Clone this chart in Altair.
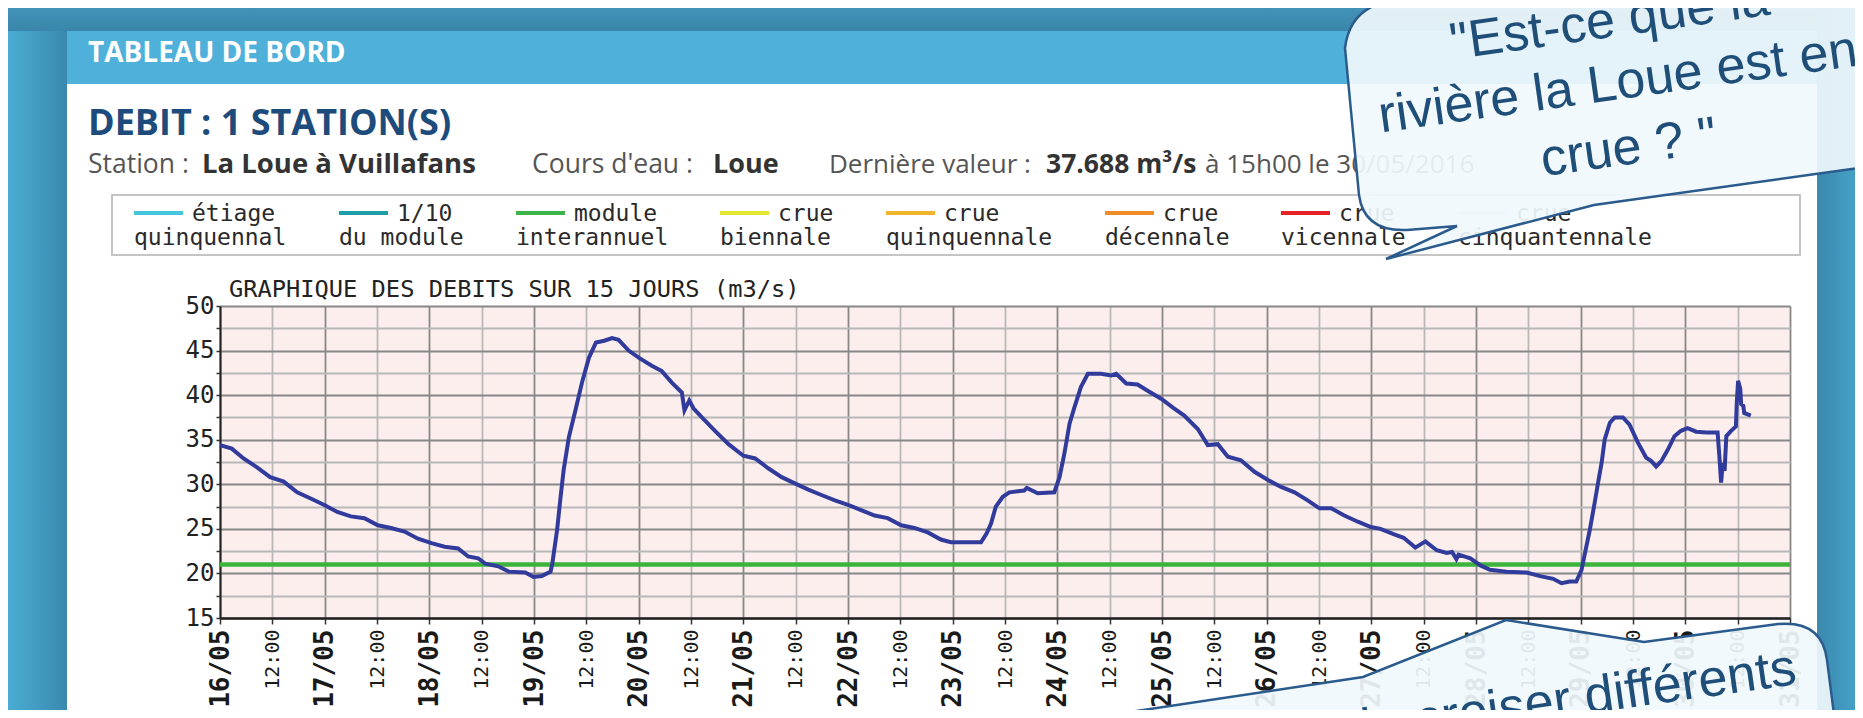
import altair as alt
import pandas as pd

# ---------------- data ----------------
BASE_TIME = "2016-05-16 00:00"
HOURS = [0, 2.7, 5.4, 8.5, 11.5, 14.6, 17.7, 20.8, 23.8, 26.9, 30, 33.1, 36.2, 39.2, 42.3,
         45.4, 48.5, 51.5, 54.6, 56.9, 59.2, 60.8, 63.8, 66.2, 70, 71.9, 73.8, 75.8, 76.2,
         77.3, 78.1, 78.8, 80, 81.5, 83.1, 84.6, 86.2, 88.1, 89.9, 91.4, 93.7, 96, 99,
         101.3, 103.6, 105.9, 106.5, 107.6, 108.6, 110.5, 113.5, 116.6, 120, 122.7, 125.7,
         128.8, 131.8, 134.9, 137.9, 141, 144, 147, 150.1, 153.1, 156.2, 159.2, 162.3,
         165.3, 167.6, 171.4, 174.5, 175.8, 176.8, 177.9, 179.5, 181, 184.4, 185, 187.5,
         191.3, 192.5, 193.6, 194.8, 195.9, 197.4, 199, 202, 204.3, 205.5, 207.8, 210.4,
         212.7, 215.8, 218.5, 221.1, 224.2, 226.5, 228.8, 231.1, 234.1, 237.2, 240.2,
         243.3, 246.4, 249.4, 252.1, 254.8, 257.8, 260.9, 263.9, 266.1, 269.1, 271.4,
         274.1, 276.4, 279, 281.3, 282.5, 283.5, 284, 286.7, 289, 291.2, 295, 299.6,
         302.7, 305.7, 307.6, 309.5, 311, 312.2, 313, 314.1, 315.2, 316, 316.8, 317.5,
         318.7, 319.8, 321.7, 323.2, 325.1, 327, 328.2, 329.3, 330.5, 332, 333.5, 335,
         336.5, 338.5, 340.8, 343.4, 343.8, 344.2, 344.6, 345, 345.4, 346.5, 347.6,
         347.8, 348.1, 348.6, 348.8, 349.3, 349.5, 351]
FLOW = [34.4, 34.0, 32.9, 31.9, 30.8, 30.3, 29.1, 28.4, 27.7, 26.9, 26.4, 26.2, 25.4, 25.1,
        24.7, 23.9, 23.4, 23.0, 22.8, 21.9, 21.7, 21.1, 20.8, 20.2, 20.1, 19.6, 19.7, 20.2,
        21.1, 24.9, 28.6, 31.6, 35.3, 38.3, 41.6, 44.2, 45.9, 46.1, 46.4, 46.2, 45.0, 44.2,
        43.3, 42.7, 41.4, 40.3, 38.3, 39.4, 38.5, 37.5, 36.0, 34.5, 33.2, 32.9, 31.8, 30.8,
        30.1, 29.4, 28.8, 28.2, 27.7, 27.1, 26.5, 26.2, 25.4, 25.1, 24.6, 23.8, 23.5, 23.5,
        23.5, 24.5, 25.6, 27.5, 28.6, 29.1, 29.3, 29.6, 29.0, 29.1, 30.8, 33.4, 36.8, 38.6,
        40.9, 42.4, 42.4, 42.2, 42.4, 41.3, 41.2, 40.5, 39.6, 38.6, 37.7, 36.2, 34.4, 34.5,
        33.1, 32.7, 31.4, 30.5, 29.7, 29.1, 28.2, 27.3, 27.3, 26.5, 25.8, 25.2, 25.0, 24.4,
        24.0, 22.9, 23.6, 22.6, 22.3, 22.4, 21.6, 22.1, 21.7, 20.9, 20.4, 20.2, 20.1, 19.7,
        19.4, 18.9, 19.1, 19.1, 20.4, 22.3, 24.9, 27.9, 30.2, 32.4, 35.0, 36.9, 37.5, 37.5,
        36.7, 34.7, 33.0, 32.6, 32.0, 32.6, 33.9, 35.4, 36.0, 36.3, 35.9, 35.8, 35.8, 33.2,
        30.2, 32.4, 31.5, 35.4, 36.0, 36.5, 39.2, 41.6, 40.7, 39.0, 38.8, 38.0, 37.7]
MODULE_INTERANNUEL = 21.0

LEGEND_LINE1 = ["étiage", "1/10", "module", "crue", "crue", "crue", "crue", "crue"]
LEGEND_LINE2 = ["quinquennal", "du module", "interannuel", "biennale", "quinquennale",
                "décennale", "vicennale", "cinquantennale"]
LEGEND_COLORS = ["#44c6df", "#1e9fa8", "#3cb44a", "#e6e632", "#f0b42a", "#f08c28",
                 "#e62128", "#f4d2e8"]

Y_TICKS = [15, 17.5, 20, 22.5, 25, 27.5, 30, 32.5, 35, 37.5, 40, 42.5, 45, 47.5, 50]
X_DAYS = list(range(16, 31))

# ---------------- layout ----------------
OX, OY = 220, 306          # page position of plot origin
W, H = 1570, 312
PAD = {"left": OX - 8, "top": OY - 8, "right": 1847 - (OX - 8) - W, "bottom": 702 - (OY - 8) - H}

flow_df = pd.DataFrame({
    "time": pd.Timestamp(BASE_TIME) + pd.to_timedelta(HOURS, unit="h"),
    "value": FLOW,
})
one = pd.DataFrame({"k": [0]})

x_ticks = []
for d in X_DAYS:
    x_ticks.append(alt.DateTime(year=2016, month=5, date=d, hours=0))
    x_ticks.append(alt.DateTime(year=2016, month=5, date=d, hours=12))
x_ticks.append(alt.DateTime(year=2016, month=5, date=31, hours=0))

x_enc = alt.X(
    "time:T",
    scale=alt.Scale(domain=[alt.DateTime(year=2016, month=5, date=16, hours=0),
                            alt.DateTime(year=2016, month=5, date=31, hours=0)]),
    axis=alt.Axis(
        values=x_ticks,
        labelExpr="hours(datum.value) == 0 ? timeFormat(datum.value, '%d/%m') : '12:00'",
        labelAngle=270,
        labelFont="DejaVu Sans Mono",
        labelFontSize=alt.condition("hours(datum.value) == 0", alt.value(26), alt.value(20)),
        labelFontWeight=alt.condition("hours(datum.value) == 0", alt.value("bold"), alt.value("normal")),
        labelColor="#1a1a1a",
        labelPadding=5,
        labelOverlap=False,
        labelFlush=False,
        tickSize=6, tickColor="#333333", tickWidth=1.5,
        domainColor="#222222", domainWidth=2.5,
        grid=True,
        gridColor=alt.condition("hours(datum.value) == 0", alt.value("#878787"), alt.value("#b8b8b8")),
        gridWidth=1.8,
        title=None,
    ),
)
y_enc = alt.Y(
    "value:Q",
    scale=alt.Scale(domain=[15, 50], nice=False, zero=False),
    axis=alt.Axis(
        values=Y_TICKS,
        labelExpr="datum.value % 5 == 0 ? datum.label : ''",
        labelFont="DejaVu Sans Mono", labelFontSize=24, labelColor="#222222",
        labelPadding=2, tickSize=4, tickColor="#333333", tickWidth=1.5,
        domainColor="#222222", domainWidth=2,
        grid=True,
        gridColor=alt.condition("datum.value % 5 == 0", alt.value("#878787"), alt.value("#b8b8b8")),
        gridWidth=1.8,
        title=None,
    ),
)


def rect(x1, y1, x2, y2, **kw):
    return alt.Chart(one).mark_rect(**kw).encode(
        x=alt.value(x1 - OX), x2=alt.value(x2 - OX),
        y=alt.value(y1 - OY), y2=alt.value(y2 - OY))


def txt(s, x, y, size, color, font="Open Sans", weight="normal", align="left",
        angle=0, baseline="alphabetic"):
    return alt.Chart(one).mark_text(
        font=font, fontSize=size, fontWeight=weight, color=color, align=align,
        baseline=baseline, angle=angle,
    ).encode(x=alt.value(x - OX), y=alt.value(y - OY), text=alt.value(s))


def grad(c1, c2, vertical=False):
    return alt.LinearGradient(
        gradient="linear",
        stops=[alt.GradientStop(offset=0, color=c1), alt.GradientStop(offset=1, color=c2)],
        x1=0, y1=0, x2=0 if vertical else 1, y2=1 if vertical else 0)


layers = []
# surrounding blue background and header bar
layers.append(rect(0, 0, 67, 730, fill=grad("#4db2da", "#3a88ad")))
layers.append(rect(0, 0, 1870, 31, fill=grad("#4596bc", "#3a86ab", vertical=True)))
layers.append(rect(1817, 0, 1870, 730, fill=grad("#3a88ad", "#4aaad2")))
layers.append(rect(67, 31, 1817, 84, fill="#4fb1da"))

# header texts
layers.append(txt("TABLEAU DE BORD", 88, 62, 28, "#ffffff", weight="bold"))
layers.append(txt("DEBIT : 1 STATION(S)", 88, 135, 36, "#1d4c7c", weight="bold"))
layers.append(txt("Station :", 88, 173, 26.5, "#555555"))
layers.append(txt("La Loue à Vuillafans", 202, 173, 27.5, "#333333", weight="bold"))
layers.append(txt("Cours d'eau :", 532, 173, 26.5, "#555555"))
layers.append(txt("Loue", 713, 173, 27, "#333333", weight="bold"))
layers.append(txt("Dernière valeur :", 829, 173, 26, "#555555"))
layers.append(txt("37.688 m³/s", 1046, 173, 26.5, "#333333", weight="bold"))
layers.append(txt("à 15h00 le 30/05/2016", 1205, 173, 26, "#555555"))

# legend box
layers.append(rect(112, 195, 1800, 255, fill="#ffffff", stroke="#c4c4c4", strokeWidth=2))
LEG_LEFT = [134, 339, 516, 720, 886, 1105, 1281, 1458]
for left, w1, w2, col in zip(LEG_LEFT, LEGEND_LINE1, LEGEND_LINE2, LEGEND_COLORS):
    layers.append(alt.Chart(one).mark_rule(color=col, strokeWidth=4).encode(
        x=alt.value(left - OX), x2=alt.value(left + 49 - OX), y=alt.value(213 - OY)))
    layers.append(txt(w1, left + 58, 221, 23, "#2a2a2a", font="DejaVu Sans Mono"))
    layers.append(txt(w2, left, 245, 23, "#2a2a2a", font="DejaVu Sans Mono"))

# chart title
layers.append(txt("GRAPHIQUE DES DEBITS SUR 15 JOURS (m3/s)", 229, 297, 23.7, "#222222",
                  font="DejaVu Sans Mono"))

# data layers
module_df = pd.DataFrame({"value": [MODULE_INTERANNUEL]})
layers.append(alt.Chart(module_df).mark_rule(color="#3cb43c", strokeWidth=4.5).encode(y=y_enc))
layers.append(alt.Chart(flow_df).mark_line(color="#313b9c", strokeWidth=4, strokeJoin="miter").encode(
    x=x_enc, y=y_enc))

# speech bubbles (decoration)
TOP_BUBBLE = ("M {a} {b} Q {c} {d} {e} {f} L {g} {h} Q {i} {j} {k} {l} L {m} {n} L {o} {p} "
              "L {q} {r} L {s} {t} L {s} {u} L {v} {u} Z").format(
    a=1395 - OX, b=0 - OY, c=1350 - OX, d=6 - OY, e=1345 - OX, f=48 - OY,
    g=1359 - OX, h=195 - OY, i=1364 - OX, j=232 - OY, k=1407 - OX, l=230 - OY,
    m=1457 - OX, n=226 - OY, o=1386 - OX, p=259 - OY, q=1594 - OX, r=205 - OY,
    s=1880 - OX, t=165 - OY, u=-30 - OY, v=1400 - OX)
BOTTOM_BUBBLE = ("M {a} {b} L {c} {d} L {e} {f} L {g} {h} L {i} {j} Q {k} {l} {m} {n} "
                 "L {o} {p} Z").format(
    a=1010 - OX, b=730 - OY, c=1363 - OX, d=677 - OY, e=1506 - OX, f=620 - OY,
    g=1644 - OX, h=642 - OY, i=1778 - OX, j=624 - OY, k=1822 - OX, l=620 - OY,
    m=1827 - OX, n=660 - OY, o=1836 - OX, p=730 - OY)

for path in (TOP_BUBBLE, BOTTOM_BUBBLE):
    layers.append(alt.Chart(one).mark_point(
        shape=path, size=4, filled=True, fill="#f0f8fc", fillOpacity=0.92,
        stroke="#2b5b8d", strokeWidth=2.5, opacity=1,
    ).encode(x=alt.value(0), y=alt.value(0)))

BUBBLE_FONT = "Liberation Sans"
layers.append(txt("\"Est-ce que la", 1612, 37, 52, "#1f4e79", font=BUBBLE_FONT,
                  align="center", angle=352))
layers.append(txt("rivière la Loue est en", 1620, 99, 52, "#1f4e79", font=BUBBLE_FONT,
                  align="center", angle=352))
layers.append(txt("crue ? \"", 1631, 164, 52, "#1f4e79", font=BUBBLE_FONT,
                  align="center", angle=352))
layers.append(txt("permet de croiser différents", 1798, 684, 52, "#1f4e79", font=BUBBLE_FONT,
                  align="right", angle=352))

chart = alt.layer(*layers).properties(
    width=W, height=H,
    padding=PAD,
    autosize=alt.AutoSizeParams(type="none"),
    background="#ffffff",
).configure_view(fill="#fdeeee", stroke="transparent")

chart.save("out.html", embed_options={"renderer": "svg", "actions": False})
